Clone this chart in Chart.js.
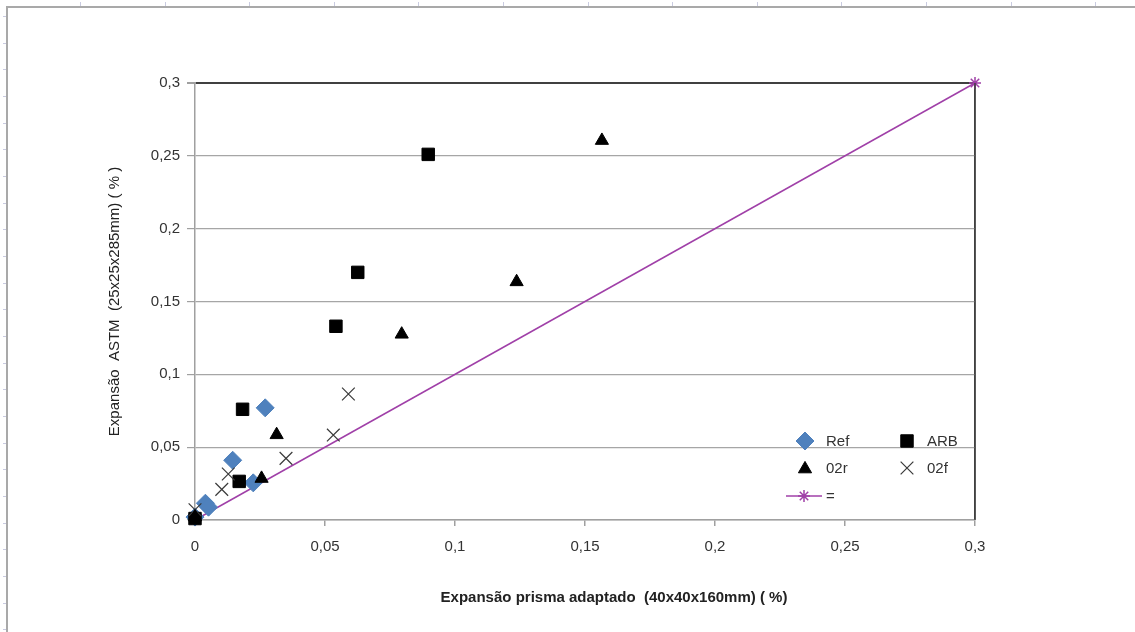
<!DOCTYPE html>
<html>
<head>
<meta charset="utf-8">
<script src="https://cdn.jsdelivr.net/npm/chart.js@4.4.1/dist/chart.umd.min.js"></script>
<style>
html,body{margin:0;padding:0;background:#fff;}
#wrap{position:relative;width:1135px;height:632px;overflow:hidden;background:#fff;}
canvas{position:absolute;left:0;top:0;}
</style>
</head>
<body>
<div id="wrap"><canvas id="c" width="1135" height="632"></canvas></div>
<script>
// ---- data ----
const seriesNames = ['Ref', 'ARB', '02r', '02f', '='];
const refX = [0.027, 0.0145, 0.0224, 0.0040, 0.0052, 0.0];
const refY = [0.077, 0.041, 0.0255, 0.0115, 0.0088, 0.002];
const arbX = [0.0897, 0.0626, 0.0542, 0.0183, 0.0170, 0.0];
const arbY = [0.251, 0.170, 0.133, 0.076, 0.0265, 0.001];
const o2rX = [0.1565, 0.1237, 0.0795, 0.0314, 0.0256, 0.0];
const o2rY = [0.2605, 0.1635, 0.1275, 0.0585, 0.0285, 0.002];
const o2fX = [0.059, 0.0532, 0.035, 0.0128, 0.0103, 0.0];
const o2fY = [0.0865, 0.0583, 0.0423, 0.0316, 0.021, 0.007];
const eqX = [0, 0.3];
const eqY = [0, 0.3];
const xTickLabels = ['0', '0,05', '0,1', '0,15', '0,2', '0,25', '0,3'];
const yTickLabels = ['0', '0,05', '0,1', '0,15', '0,2', '0,25', '0,3'];
const xTitle = 'Expansão prisma adaptado  (40x40x160mm) ( %)';
const yTitle = 'Expansão  ASTM  (25x25x285mm) ( % )';

const pts = (xs, ys) => xs.map((x, i) => ({x: x, y: ys[i]}));

const FONT = "'Liberation Sans', Arial, sans-serif";

// frame + ruler decoration, x title, legend
const decoPlugin = {
  id: 'deco',
  beforeDraw(chart) {
    const ctx = chart.ctx;
    ctx.save();
    ctx.fillStyle = '#fff';
    ctx.fillRect(0, 0, chart.width, chart.height);
    ctx.strokeStyle = '#c9cbe0';
    ctx.lineWidth = 1;
    for (let x = 80; x < chart.width; x += 84.6) {
      ctx.beginPath(); ctx.moveTo(Math.round(x) + 0.5, 2); ctx.lineTo(Math.round(x) + 0.5, 6); ctx.stroke();
    }
    for (let y = 16; y < chart.height; y += 26.67) {
      ctx.beginPath(); ctx.moveTo(3, Math.round(y) + 0.5); ctx.lineTo(6, Math.round(y) + 0.5); ctx.stroke();
    }
    ctx.strokeStyle = '#a9a9a9';
    ctx.lineWidth = 2;
    ctx.beginPath();
    ctx.moveTo(7, chart.height + 2);
    ctx.lineTo(7, 7);
    ctx.lineTo(chart.width + 2, 7);
    ctx.stroke();
    ctx.restore();
  },
  afterDraw(chart) {
    const ctx = chart.ctx;
    const area = chart.chartArea;
    ctx.save();
    // right border of plot area
    ctx.strokeStyle = '#404040';
    ctx.lineWidth = 1.5;
    ctx.beginPath();
    ctx.moveTo(area.right, area.top);
    ctx.lineTo(area.right, area.bottom);
    ctx.stroke();
    // x axis title
    ctx.fillStyle = '#222';
    ctx.font = 'bold 15px ' + FONT;
    ctx.textAlign = 'center';
    ctx.textBaseline = 'middle';
    ctx.fillText(xTitle, 614, 598);
    // legend
    const items = [
      {ds: 0, mx: 805, tx: 826, y: 441},
      {ds: 1, mx: 907, tx: 927, y: 441},
      {ds: 2, mx: 805, tx: 826, y: 468},
      {ds: 3, mx: 907, tx: 927, y: 468},
      {ds: 4, mx: 804, tx: 826, y: 496, line: true}
    ];
    ctx.font = '15px ' + FONT;
    ctx.textAlign = 'left';
    items.forEach(it => {
      const d = chart.data.datasets[it.ds];
      if (it.line) {
        ctx.strokeStyle = d.borderColor;
        ctx.lineWidth = d.borderWidth;
        ctx.beginPath();
        ctx.moveTo(it.mx - 18, it.y);
        ctx.lineTo(it.mx + 18, it.y);
        ctx.stroke();
      }
      ctx.fillStyle = d.pointBackgroundColor;
      ctx.strokeStyle = d.pointBorderColor;
      ctx.lineWidth = d.pointBorderWidth;
      let r = d.pointRadius;
      let yy = it.y;
      if (d.pointStyle === 'triangle') yy = it.y + 1;
      Chart.helpers.drawPoint(ctx, {pointStyle: d.pointStyle, radius: r, rotation: 0, borderWidth: d.pointBorderWidth}, it.mx, yy);
      ctx.fillStyle = '#333';
      ctx.fillText(seriesNames[it.ds], it.tx, it.y + 1);
    });
    ctx.restore();
  }
};

const ds = [
  {label: seriesNames[0], data: pts(refX, refY), pointStyle: 'rectRot', pointRadius: 9,
   pointBackgroundColor: '#4F81BD', pointBorderColor: '#4F81BD', pointBorderWidth: 1, order: 4},
  {label: seriesNames[1], data: pts(arbX, arbY), pointStyle: 'rect', pointRadius: 8.8,
   pointBackgroundColor: '#000', pointBorderColor: '#000', pointBorderWidth: 1, order: 3},
  {label: seriesNames[2], data: pts(o2rX, o2rY), pointStyle: 'triangle', pointRadius: 7.6,
   pointBackgroundColor: '#000', pointBorderColor: '#000', pointBorderWidth: 1, order: 1},
  {label: seriesNames[3], data: pts(o2fX, o2fY), pointStyle: 'crossRot', pointRadius: 9,
   pointBackgroundColor: '#3a3a3a', pointBorderColor: '#3a3a3a', pointBorderWidth: 1.2, order: 2},
  {label: seriesNames[4], data: pts(eqX, eqY), showLine: true, borderColor: '#a040a8', borderWidth: 1.5,
   pointStyle: 'star', pointRadius: 6, pointBackgroundColor: '#a040a8', pointBorderColor: '#a040a8',
   pointBorderWidth: 1.5, order: 5}
];
ds.forEach(d => { d.clip = false; d.pointHoverRadius = d.pointRadius; });

new Chart(document.getElementById('c'), {
  type: 'scatter',
  data: {datasets: ds},
  plugins: [decoPlugin],
  options: {
    responsive: false,
    devicePixelRatio: 1,
    animation: false,
    events: [],
    layout: {padding: {left: 0, right: 160, top: 83, bottom: 0}},
    plugins: {legend: {display: false}, tooltip: {enabled: false}},
    scales: {
      x: {
        type: 'linear', min: 0, max: 0.3,
        afterFit: s => { s.height = 112; },
        ticks: {stepSize: 0.05, padding: 12, color: '#333', font: {family: FONT, size: 15},
                maxRotation: 0, autoSkip: false,
                callback: (v, i) => xTickLabels[i]},
        grid: {drawOnChartArea: true, tickLength: 6, tickColor: '#a0a0a0',
               color: c => (c.tick && c.tick.value > 0.29) ? '#404040' : 'rgba(0,0,0,0)', lineWidth: 1.5},
        border: {color: '#a0a0a0', width: 1.5}
      },
      y: {
        type: 'linear', min: 0, max: 0.3,
        afterFit: s => { s.width = 195; },
        ticks: {stepSize: 0.05, padding: 7, color: '#333', font: {family: FONT, size: 15},
                autoSkip: false,
                callback: (v, i) => yTickLabels[i]},
        grid: {tickLength: 8, tickColor: '#a0a0a0',
               color: c => (c.tick && c.tick.value > 0.29) ? '#404040' : '#a6a6a6',
               lineWidth: c => (c.tick && c.tick.value > 0.29) ? 2 : 1.2},
        border: {color: '#a0a0a0', width: 1.5},
        title: {display: true, text: yTitle, color: '#222', font: {family: FONT, size: 15},
                padding: {top: 106, bottom: 0}}
      }
    }
  }
});
</script>
</body>
</html>
